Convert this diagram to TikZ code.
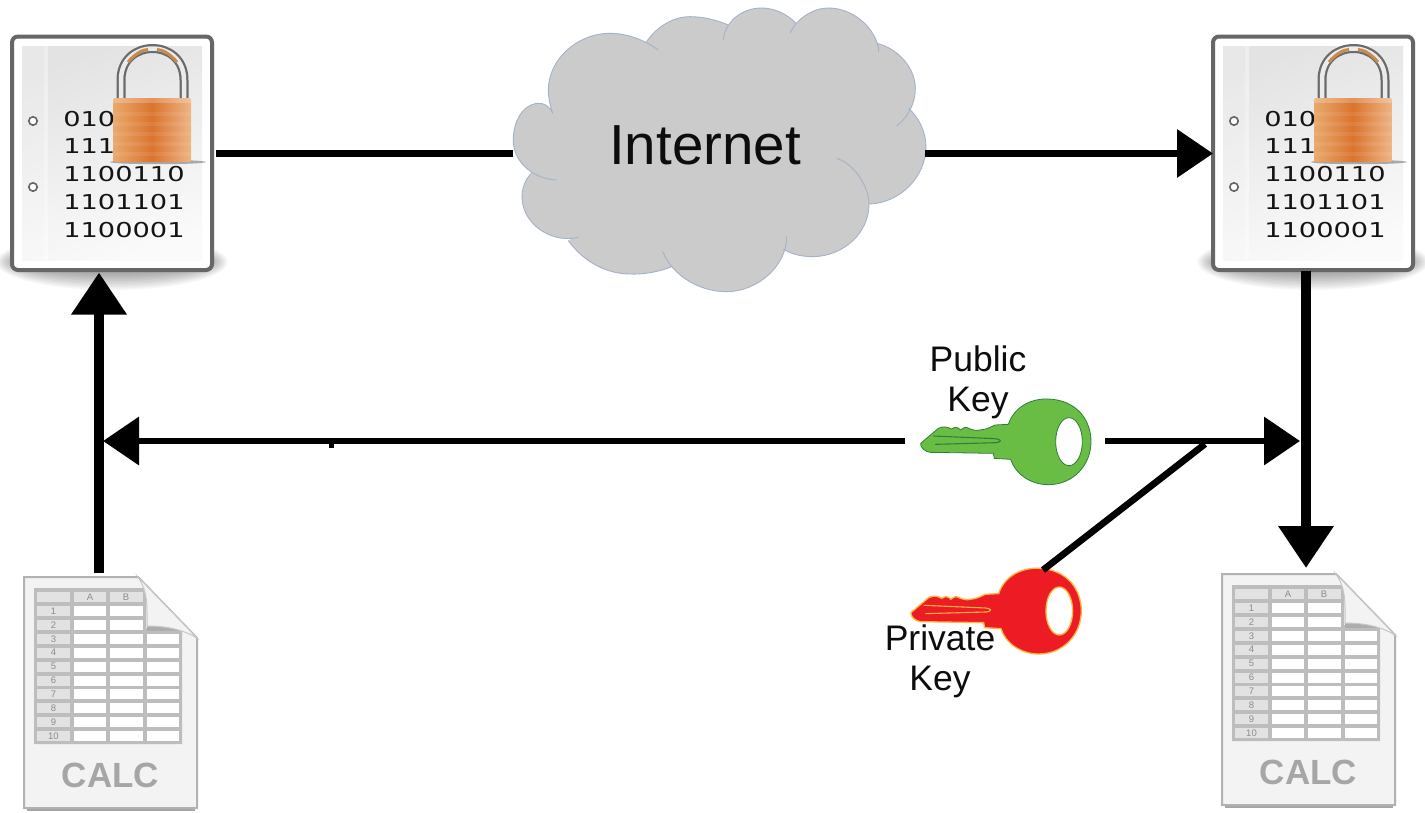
\documentclass[tikz,border=0pt]{standalone}
\usepackage{fontspec}
\setmainfont{Liberation Sans}
\newfontfamily\digitfont{DejaVu Sans}
\usetikzlibrary{arrows.meta}
\definecolor{cloudfill}{HTML}{CBCBCB}
\definecolor{cloudline}{HTML}{A3B3C8}
\definecolor{frameGray}{HTML}{666666}
\definecolor{calcGray}{HTML}{BDBDBD}
\definecolor{calcCell}{HTML}{E2E2E2}
\definecolor{calcPaper}{HTML}{F3F3F3}
\definecolor{keyGreen}{HTML}{69BD45}
\definecolor{keyGreenD}{HTML}{2F7F3A}
\definecolor{keyRed}{HTML}{ED1C24}
\definecolor{keyRedL}{HTML}{F9B53C}
\definecolor{lockL}{HTML}{E9A96C}
\definecolor{lockM}{HTML}{DA742F}
\definecolor{lockR}{HTML}{EDB584}
\definecolor{lockT}{HTML}{C98A4A}
\tikzset{
  conn/.style={line width=6.7pt,draw=black},
  connV/.style={line width=10pt,draw=black},
  tipA/.style={-{Triangle[length=36pt,width=47pt]}},
  tipB/.style={-{Triangle[length=42pt,width=53pt]}},
  anchorbox/.style={inner sep=0pt,outer sep=0pt,minimum width=#1},
  lab/.style={align=center,font=\fontsize{35.5}{40}\selectfont,text=black!95,inner sep=0pt},
  bits/.style={anchor=base west,inner sep=0pt,xscale=1.33,text=black!92,font=\digitfont\fontsize{20.5}{24}\selectfont},
  calcsmall/.style={inner sep=0pt,text=black!45,font=\fontsize{9.5}{10}\selectfont},
  lobe/.style={draw=cloudline,line width=0.9pt},
}
\newcommand{\encdoc}[2]{%
\begin{scope}[shift={(#1,0)}]
  \foreach \i in {1,...,16}{
    \fill[black,opacity=0.03] (112,262) ellipse[x radius=90+1.6*\i,y radius=4+1.5*\i];
  }
  \fill[white,draw=frameGray,line width=4pt,rounded corners=6pt] (12,36.5) rectangle (212,270);
  \shade[top color=black!11,bottom color=black!2,shading angle=20] (22,46) rectangle (202,260);
  \fill[white,opacity=0.2] (22,46) rectangle (44,260);
  \fill[white,opacity=0.4] (44,46) rectangle (48,260);
  \foreach \yy in {121,187}{
    \fill[white,draw=black!60,line width=1.6pt] (33,\yy) circle[radius=4.2pt];
  }
  \foreach \yy/\tt [count=\n] in {126/010,153.5/111,181/1100110,209/1101101,237/1100001}{
    \node[bits] (#2-bits-\n) at (63,\yy) {\tt};
  }
  \fill[black,opacity=0.3] (158,162) ellipse[x radius=48pt,y radius=2.2pt];
  \draw[black!58,line width=9pt] (121,99) -- (121,80) .. controls (121,38) and (184,38) .. (184,80) -- (184,99);
  \draw[black!8,line width=4.5pt] (121,99) -- (121,80) .. controls (121,38) and (184,38) .. (184,80) -- (184,99);
  \draw[lockT,line width=3pt] (128,62) .. controls (136,53) and (142,50) .. (148,49.5);
  \draw[lockT,line width=3pt] (157,49.5) .. controls (163,50) and (169,53) .. (177,62);
  \shade[left color=lockL,right color=lockR,middle color=lockM,rounded corners=2pt]
    (113,98) rectangle (191,162);
  \fill[white,opacity=0.22] (113,98) rectangle (191,103);
  \foreach \yy in {112,122,132,142,152}{
    \fill[white,opacity=0.07] (113,\yy) rectangle (191,\yy+4);
  }
\end{scope}}
\newcommand{\calcdoc}[3]{%
\begin{scope}[shift={(#1,#2)}]
  \fill[black!35] (27,803) rectangle (195,811);
  \fill[calcPaper,draw=black!30,line width=2pt] (24,577) -- (138,577) -- (197,638) -- (197,808) -- (24,808) -- cycle;
  \fill[calcGray] (34,588) -- (146,588) -- (146,628) -- (182,628) -- (182,744) -- (34,744) -- cycle;
  \fill[calcCell] (37,592) rectangle (70,602);
  \fill[calcCell] (74,592) rectangle (106,602);
  \fill[calcCell] (110,592) rectangle (143,602);
  \node[calcsmall] (#3-cola) at (90,597) {A};
  \node[calcsmall] (#3-colb) at (126,597) {B};
  \foreach \r in {1,...,10}{
    \pgfmathsetmacro{\yt}{606+13.9*(\r-1)}
    \pgfmathsetmacro{\yb}{\yt+10}
    \pgfmathsetmacro{\ym}{\yt+5}
    \fill[calcCell] (37,\yt) rectangle (70,\yb);
    \fill[white] (74,\yt) rectangle (106,\yb);
    \fill[white] (110,\yt) rectangle (143,\yb);
    \ifnum\r>2 \fill[white] (147,\yt) rectangle (179,\yb); \fi
    \node[calcsmall] (#3-row-\r) at (53.5,\ym) {\r};
  }
  \fill[black!32] (147,625) rectangle (181,631);
  \fill[calcPaper,draw=black!22,line width=1pt] (138,577) -- (197,638) .. controls (182,629) and (165,626) .. (147,626) -- (147,610) .. controls (147,596) and (144,586) .. (138,577) -- cycle;
  \node[inner sep=0pt,text=black!35,font=\bfseries\fontsize{35}{36}\selectfont] (#3-title) at (110.5,775) {CALC};
\end{scope}}
\newcommand{\keyshape}[6]{%
\begin{scope}[shift={(#1,#2)},x=0.33333pt,y=-0.33333pt]
  \fill[#3,draw=#4,line width=#6,even odd rule]
    (122,340) -- (175,295) .. controls (190,288) and (200,290) .. (215,297)
    .. controls (225,290) and (232,290) .. (242,300)
    .. controls (252,291) and (258,290) .. (268,296)
    .. controls (280,300) and (288,303) .. (300,300)
    .. controls (320,298) and (330,292) .. (345,285) -- (385,283)
    .. controls (405,225) and (460,205) .. (505,207)
    .. controls (590,210) and (633,270) .. (633,335)
    .. controls (633,405) and (580,464) .. (505,464)
    .. controls (450,464) and (405,430) .. (392,388)
    -- (343,385) -- (340,370) -- (150,367)
    .. controls (135,365) and (120,352) .. (122,340) -- cycle
    (567,335) ellipse[x radius=40,y radius=72];
  \draw[#5,line width=1.1pt] (160,318) -- (345,326) .. controls (362,328) and (368,334) .. (350,338) -- (165,343);
\end{scope}}
\begin{document}
\begin{tikzpicture}[x=1pt,y=-1pt]
\useasboundingbox (0,0) rectangle (1425,812);
\fill[white] (0,0) rectangle (1425,812);

% cloud
\begin{scope}[shift={(500,0)},x=0.33333pt,y=-0.33333pt]
  \def\lA{(158,340) .. controls (150,318) and (130,308) .. (112,310) .. controls (65,315) and (38,370) .. (40,425) .. controls (42,490) and (105,538) .. (170,540)}
  \def\lB{(92,522) .. controls (70,545) and (62,580) .. (68,610) .. controls (80,680) and (160,730) .. (235,712)}
  \def\lC{(205,722) .. controls (250,785) and (320,822) .. (390,822) .. controls (430,824) and (480,815) .. (515,800)}
  \def\lD{(488,755) .. controls (520,830) and (600,875) .. (680,875) .. controls (770,875) and (860,800) .. (860,710)}
  \def\lE{(850,748) .. controls (880,765) and (910,770) .. (940,770) .. controls (1030,768) and (1108,700) .. (1107,610) .. controls (1105,555) and (1060,490) .. (1010,475)}
  \def\lF{(1107,612) .. controls (1200,610) and (1278,530) .. (1278,440) .. controls (1278,395) and (1255,350) .. (1225,325)}
  \def\lG{(1190,378) .. controls (1225,350) and (1246,310) .. (1246,265) .. controls (1246,205) and (1195,145) .. (1130,130)}
  \def\lH{(1137,155) .. controls (1130,85) and (1060,24) .. (985,24) .. controls (940,24) and (890,55) .. (870,100)}
  \def\lI{(888,70) .. controls (860,40) and (820,24) .. (785,24) .. controls (725,24) and (675,65) .. (670,120)}
  \def\lJ{(685,75) .. controls (650,60) and (610,50) .. (570,50) .. controls (520,50) and (470,80) .. (440,125)}
  \def\lK{(475,150) .. controls (430,118) and (380,100) .. (330,100) .. controls (230,100) and (145,180) .. (145,270) .. controls (145,295) and (150,315) .. (158,340)}
  \fill[cloudfill] (160,335) -- (235,140) -- (440,125) -- (680,80) -- (880,70) -- (1130,130) -- (1190,378) -- (1107,612) -- (860,720) -- (490,790) -- (235,712) -- (90,525) -- cycle;
  \foreach \L in {\lA,\lB,\lC,\lD,\lE,\lF,\lG,\lH,\lI,\lJ,\lK}{
    \fill[cloudfill] \L -- (650,450) -- cycle;
  }
  \foreach \L in {\lA,\lB,\lC,\lD,\lE,\lF,\lG,\lH,\lI,\lJ,\lK}{
    \draw[lobe] \L;
  }
\end{scope}

% icons
\encdoc{0}{encL}
\encdoc{1201}{encR}
\calcdoc{0}{0}{calcL}
\calcdoc{1198}{-3}{calcR}
\keyshape{880}{330}{keyGreen}{keyGreenD}{keyGreenD}{0.8pt}
\keyshape{870.3}{499.3}{keyRed}{keyRedL}{keyRedL}{1.3pt}

% anchor boxes (no ink)
\node[anchorbox=200pt,minimum height=234pt] (encLb) at (112,153.5) {};
\node[anchorbox=200pt,minimum height=234pt] (encRb) at (1313,153.5) {};
\node[anchorbox=412pt,minimum height=285pt] (cloud) at (719,153.5) {};
\node[anchorbox=173pt,minimum height=231pt] (calcLb) at (110.5,688.5) {};
\node[anchorbox=173pt,minimum height=231pt] (calcRb) at (1308.5,688.5) {};
\node[anchorbox=200pt,minimum height=90pt] (keyPub) at (1005,441) {};
\node[anchorbox=171pt,minimum height=87pt] (keyPriv) at (996.5,611.5) {};
\coordinate (leftbus) at (99,441);
\coordinate (rightbus) at (1306,441);
\coordinate (branch) at (1205,444);
\coordinate (tick) at (331,441);

% text
\node[inner sep=0pt,text=black!95,font=\fontsize{56.5}{60}\selectfont] (internet) at (705,145) {Internet};
\node[lab] (publab) at (978,382) {Public\\Key};
\node[lab] (privlab) at (940,661) {Private\\Key};

% connectors
\draw[conn] ([xshift=4pt]encLb.east) -- (cloud.west);
\draw[conn,tipA] (cloud.east) -- (encRb.west);
\draw[connV,tipB] (calcLb.north -| leftbus) -- ([yshift=-2pt]encLb.south -| leftbus);
\draw[connV,tipB] (encRb.south -| rightbus) -- ([yshift=5pt]calcRb.north -| rightbus);
\draw[conn,tipA] (keyPub.west) -- ([xshift=4pt]leftbus);
\draw[conn,tipA] (keyPub.east) -- ([xshift=-6pt]rightbus);
\draw[conn] ([xshift=46.5pt,yshift=-2pt]keyPriv.north) -- (branch);
\draw[line width=5pt] (tick) -- ++(0,7);
\end{tikzpicture}
\end{document}
